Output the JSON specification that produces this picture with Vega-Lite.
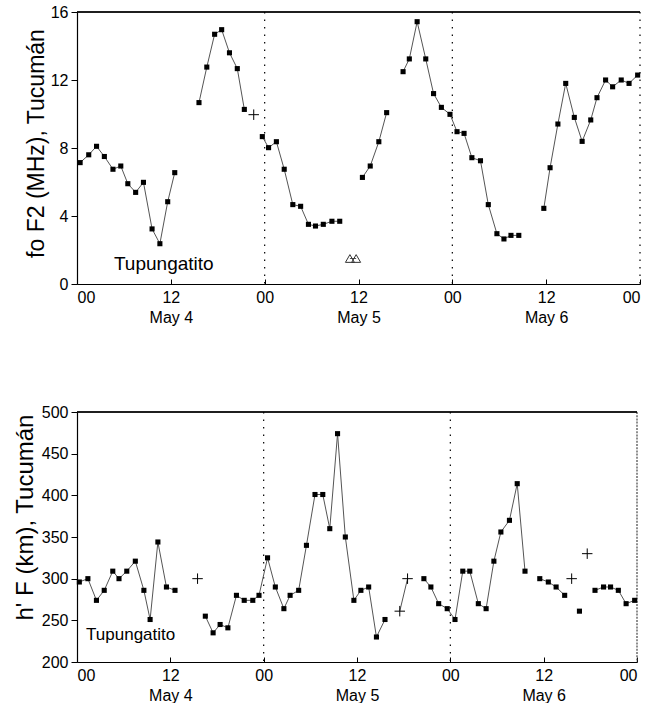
{
  "$schema": "https://vega.github.io/schema/vega-lite/v6.json",
  "padding": {"top": 4, "left": 12, "right": 0, "bottom": 0},
  "spacing": 79,
  "align": "all",
  "config": {
    "font": "Liberation Sans",
    "view": {"stroke": null},
    "axis": {
      "grid": false,
      "domainColor": "black",
      "domainWidth": 1.2,
      "tickColor": "black",
      "labelColor": "black",
      "titleColor": "black",
      "labelFontSize": 16,
      "titleFontWeight": "normal",
      "labelFont": "Liberation Sans",
      "titleFont": "Liberation Sans"
    }
  },
  "datasets": {
    "fof2": [
      {"h": 0.4, "v": 7.14, "seg": "a", "kind": "sq"},
      {"h": 1.5, "v": 7.6, "seg": "a", "kind": "sq"},
      {"h": 2.5, "v": 8.1, "seg": "a", "kind": "sq"},
      {"h": 3.5, "v": 7.5, "seg": "a", "kind": "sq"},
      {"h": 4.6, "v": 6.75, "seg": "a", "kind": "sq"},
      {"h": 5.6, "v": 6.94, "seg": "a", "kind": "sq"},
      {"h": 6.5, "v": 5.9, "seg": "a", "kind": "sq"},
      {"h": 7.5, "v": 5.39, "seg": "a", "kind": "sq"},
      {"h": 8.5, "v": 5.98, "seg": "a", "kind": "sq"},
      {"h": 9.6, "v": 3.24, "seg": "a", "kind": "sq"},
      {"h": 10.6, "v": 2.37, "seg": "a", "kind": "sq"},
      {"h": 11.6, "v": 4.84, "seg": "a", "kind": "sq"},
      {"h": 12.5, "v": 6.55, "seg": "a", "kind": "sq"},
      {"h": 15.6, "v": 10.67, "seg": "b", "kind": "sq"},
      {"h": 16.6, "v": 12.76, "seg": "b", "kind": "sq"},
      {"h": 17.6, "v": 14.69, "seg": "b", "kind": "sq"},
      {"h": 18.5, "v": 14.96, "seg": "b", "kind": "sq"},
      {"h": 19.5, "v": 13.6, "seg": "b", "kind": "sq"},
      {"h": 20.5, "v": 12.67, "seg": "b", "kind": "sq"},
      {"h": 21.4, "v": 10.27, "seg": "b", "kind": "sq"},
      {"h": 22.6, "v": 9.96, "seg": null, "kind": "plus"},
      {"h": 23.7, "v": 8.67, "seg": "c", "kind": "sq"},
      {"h": 24.5, "v": 8.02, "seg": "c", "kind": "sq"},
      {"h": 25.5, "v": 8.37, "seg": "c", "kind": "sq"},
      {"h": 26.5, "v": 6.75, "seg": "c", "kind": "sq"},
      {"h": 27.6, "v": 4.67, "seg": "c", "kind": "sq"},
      {"h": 28.6, "v": 4.57, "seg": "c", "kind": "sq"},
      {"h": 29.6, "v": 3.51, "seg": "c", "kind": "sq"},
      {"h": 30.5, "v": 3.41, "seg": "c", "kind": "sq"},
      {"h": 31.5, "v": 3.51, "seg": "c", "kind": "sq"},
      {"h": 32.6, "v": 3.69, "seg": "c", "kind": "sq"},
      {"h": 33.6, "v": 3.69, "seg": "c", "kind": "sq"},
      {"h": 34.9, "v": 1.5, "seg": "t", "kind": "tri"},
      {"h": 35.7, "v": 1.5, "seg": "t", "kind": "tri"},
      {"h": 36.5, "v": 6.27, "seg": "d", "kind": "sq"},
      {"h": 37.5, "v": 6.94, "seg": "d", "kind": "sq"},
      {"h": 38.6, "v": 8.37, "seg": "d", "kind": "sq"},
      {"h": 39.6, "v": 10.08, "seg": "d", "kind": "sq"},
      {"h": 41.7, "v": 12.49, "seg": "e", "kind": "sq"},
      {"h": 42.5, "v": 13.24, "seg": "e", "kind": "sq"},
      {"h": 43.5, "v": 15.43, "seg": "e", "kind": "sq"},
      {"h": 44.6, "v": 13.24, "seg": "e", "kind": "sq"},
      {"h": 45.6, "v": 11.2, "seg": "e", "kind": "sq"},
      {"h": 46.6, "v": 10.39, "seg": "e", "kind": "sq"},
      {"h": 47.7, "v": 9.98, "seg": "e", "kind": "sq"},
      {"h": 48.6, "v": 8.96, "seg": "e", "kind": "sq"},
      {"h": 49.5, "v": 8.86, "seg": "e", "kind": "sq"},
      {"h": 50.5, "v": 7.43, "seg": "e", "kind": "sq"},
      {"h": 51.6, "v": 7.25, "seg": "e", "kind": "sq"},
      {"h": 52.6, "v": 4.67, "seg": "e", "kind": "sq"},
      {"h": 53.7, "v": 2.96, "seg": "e", "kind": "sq"},
      {"h": 54.6, "v": 2.65, "seg": "e", "kind": "sq"},
      {"h": 55.5, "v": 2.86, "seg": "e", "kind": "sq"},
      {"h": 56.5, "v": 2.86, "seg": "e", "kind": "sq"},
      {"h": 59.7, "v": 4.45, "seg": "f", "kind": "sq"},
      {"h": 60.5, "v": 6.84, "seg": "f", "kind": "sq"},
      {"h": 61.5, "v": 9.41, "seg": "f", "kind": "sq"},
      {"h": 62.5, "v": 11.8, "seg": "f", "kind": "sq"},
      {"h": 63.6, "v": 9.8, "seg": "f", "kind": "sq"},
      {"h": 64.6, "v": 8.39, "seg": "f", "kind": "sq"},
      {"h": 65.7, "v": 9.65, "seg": "f", "kind": "sq"},
      {"h": 66.5, "v": 10.96, "seg": "f", "kind": "sq"},
      {"h": 67.6, "v": 12.0, "seg": "f", "kind": "sq"},
      {"h": 68.5, "v": 11.6, "seg": "f", "kind": "sq"},
      {"h": 69.6, "v": 12.0, "seg": "f", "kind": "sq"},
      {"h": 70.6, "v": 11.8, "seg": "f", "kind": "sq"},
      {"h": 71.7, "v": 12.29, "seg": "f", "kind": "sq"}
    ],
    "hf": [
      {"h": 0.3, "v": 296, "seg": "a", "kind": "sq"},
      {"h": 1.4, "v": 300, "seg": "a", "kind": "sq"},
      {"h": 2.5, "v": 274, "seg": "a", "kind": "sq"},
      {"h": 3.5, "v": 286, "seg": "a", "kind": "sq"},
      {"h": 4.6, "v": 309, "seg": "a", "kind": "sq"},
      {"h": 5.4, "v": 300, "seg": "a", "kind": "sq"},
      {"h": 6.4, "v": 309, "seg": "a", "kind": "sq"},
      {"h": 7.5, "v": 321, "seg": "a", "kind": "sq"},
      {"h": 8.6, "v": 286, "seg": "a", "kind": "sq"},
      {"h": 9.4, "v": 251, "seg": "a", "kind": "sq"},
      {"h": 10.4, "v": 344, "seg": "a", "kind": "sq"},
      {"h": 11.5, "v": 290, "seg": "a", "kind": "sq"},
      {"h": 12.6, "v": 286, "seg": "a", "kind": "sq"},
      {"h": 15.5, "v": 300, "seg": null, "kind": "plus"},
      {"h": 16.5, "v": 255, "seg": "b", "kind": "sq"},
      {"h": 17.5, "v": 235, "seg": "b", "kind": "sq"},
      {"h": 18.4, "v": 245, "seg": "b", "kind": "sq"},
      {"h": 19.4, "v": 241, "seg": "b", "kind": "sq"},
      {"h": 20.5, "v": 280, "seg": "b", "kind": "sq"},
      {"h": 21.5, "v": 274, "seg": "b", "kind": "sq"},
      {"h": 22.6, "v": 274, "seg": "b", "kind": "sq"},
      {"h": 23.4, "v": 280, "seg": "b", "kind": "sq"},
      {"h": 24.5, "v": 325, "seg": "b", "kind": "sq"},
      {"h": 25.5, "v": 290, "seg": "b", "kind": "sq"},
      {"h": 26.6, "v": 264, "seg": "b", "kind": "sq"},
      {"h": 27.4, "v": 280, "seg": "b", "kind": "sq"},
      {"h": 28.5, "v": 286, "seg": "b", "kind": "sq"},
      {"h": 29.5, "v": 340, "seg": "b", "kind": "sq"},
      {"h": 30.6, "v": 401, "seg": "b", "kind": "sq"},
      {"h": 31.6, "v": 401, "seg": "b", "kind": "sq"},
      {"h": 32.5, "v": 360, "seg": "b", "kind": "sq"},
      {"h": 33.5, "v": 474, "seg": "b", "kind": "sq"},
      {"h": 34.5, "v": 350, "seg": "b", "kind": "sq"},
      {"h": 35.6, "v": 274, "seg": "b", "kind": "sq"},
      {"h": 36.5, "v": 286, "seg": "b", "kind": "sq"},
      {"h": 37.5, "v": 290, "seg": "b", "kind": "sq"},
      {"h": 38.5, "v": 230, "seg": "b", "kind": "sq"},
      {"h": 39.6, "v": 251, "seg": "b", "kind": "sq"},
      {"h": 41.5, "v": 261, "seg": "c", "kind": "plus"},
      {"h": 42.5, "v": 300, "seg": "c", "kind": "plus"},
      {"h": 44.6, "v": 300, "seg": "d", "kind": "sq"},
      {"h": 45.5, "v": 290, "seg": "d", "kind": "sq"},
      {"h": 46.5, "v": 270, "seg": "d", "kind": "sq"},
      {"h": 47.6, "v": 264, "seg": "d", "kind": "sq"},
      {"h": 48.6, "v": 251, "seg": "d", "kind": "sq"},
      {"h": 49.6, "v": 309, "seg": "d", "kind": "sq"},
      {"h": 50.5, "v": 309, "seg": "d", "kind": "sq"},
      {"h": 51.6, "v": 270, "seg": "d", "kind": "sq"},
      {"h": 52.6, "v": 264, "seg": "d", "kind": "sq"},
      {"h": 53.6, "v": 321, "seg": "d", "kind": "sq"},
      {"h": 54.5, "v": 356, "seg": "d", "kind": "sq"},
      {"h": 55.6, "v": 370, "seg": "d", "kind": "sq"},
      {"h": 56.6, "v": 414, "seg": "d", "kind": "sq"},
      {"h": 57.6, "v": 309, "seg": "d", "kind": "sq"},
      {"h": 59.5, "v": 300, "seg": "e", "kind": "sq"},
      {"h": 60.6, "v": 296, "seg": "e", "kind": "sq"},
      {"h": 61.6, "v": 290, "seg": "e", "kind": "sq"},
      {"h": 62.7, "v": 280, "seg": "e", "kind": "sq"},
      {"h": 63.6, "v": 300, "seg": null, "kind": "plus"},
      {"h": 64.6, "v": 261, "seg": null, "kind": "sq"},
      {"h": 65.6, "v": 330, "seg": null, "kind": "plus"},
      {"h": 66.6, "v": 286, "seg": "f", "kind": "sq"},
      {"h": 67.7, "v": 290, "seg": "f", "kind": "sq"},
      {"h": 68.6, "v": 290, "seg": "f", "kind": "sq"},
      {"h": 69.6, "v": 286, "seg": "f", "kind": "sq"},
      {"h": 70.6, "v": 270, "seg": "f", "kind": "sq"},
      {"h": 71.7, "v": 274, "seg": "f", "kind": "sq"}
    ],
    "days": [{"h": 24}, {"h": 48}, {"h": 72}],
    "midnights": [{"h": 24}, {"h": 48}]
  },
  "vconcat": [
    {
      "width": 563,
      "height": 272,
      "layer": [
        {
          "data": {"name": "days"},
          "mark": {"type": "rule", "color": "black", "strokeWidth": 1.2, "strokeDash": [1.5, 6]},
          "encoding": {"x": {"field": "h", "type": "quantitative", "scale": {"domain": [0, 72], "nice": false}}}
        },
        {
          "data": {"name": "days"},
          "mark": {"type": "rule", "color": "black", "strokeWidth": 1.2},
          "encoding": {"y": {"datum": 16, "scale": {"domain": [0, 16], "nice": false}}}
        },
        {
          "data": {"name": "fof2"},
          "transform": [{"filter": "datum.seg != null"}],
          "mark": {"type": "line", "color": "#555555", "strokeWidth": 1},
          "encoding": {
            "x": {
              "field": "h", "type": "quantitative",
              "scale": {"domain": [0, 72], "nice": false},
              "axis": {
                "title": null, "values": [0, 12, 24, 36, 48, 60, 72],
                "tickSize": -5, "labelPadding": 10, "labelLineHeight": 20,
                "labelExpr": "datum.value % 24 == 12 ? ['12', 'May ' + (4 + floor(datum.value / 24))] : '00'"
              }
            },
            "y": {
              "field": "v", "type": "quantitative",
              "scale": {"domain": [0, 16], "nice": false},
              "axis": {
                "title": "fo F2 (MHz), Tucumán", "values": [0, 4, 8, 12, 16],
                "tickSize": 6, "labelPadding": 3,
                "titleFontSize": 23, "titleX": -41, "titleY": 131, "titleBaseline": "middle"
              }
            },
            "detail": {"field": "seg"}
          }
        },
        {
          "data": {"name": "fof2"},
          "transform": [{"filter": "datum.kind == 'sq'"}],
          "mark": {"type": "point", "shape": "square", "filled": true, "color": "black", "size": 26, "opacity": 1},
          "encoding": {
            "x": {"field": "h", "type": "quantitative", "scale": {"domain": [0, 72], "nice": false}},
            "y": {"field": "v", "type": "quantitative", "scale": {"domain": [0, 16], "nice": false}}
          }
        },
        {
          "data": {"name": "fof2"},
          "transform": [{"filter": "datum.kind == 'plus'"}],
          "mark": {"type": "point", "shape": "M-1,0L1,0M0,-1L0,1", "filled": false, "color": "black", "strokeWidth": 1, "size": 110, "opacity": 1},
          "encoding": {
            "x": {"field": "h", "type": "quantitative", "scale": {"domain": [0, 72], "nice": false}},
            "y": {"field": "v", "type": "quantitative", "scale": {"domain": [0, 16], "nice": false}}
          }
        },
        {
          "data": {"name": "fof2"},
          "transform": [{"filter": "datum.kind == 'tri'"}],
          "mark": {"type": "point", "shape": "triangle-up", "filled": false, "color": "#333333", "strokeWidth": 1, "size": 80, "opacity": 1},
          "encoding": {
            "x": {"field": "h", "type": "quantitative", "scale": {"domain": [0, 72], "nice": false}},
            "y": {"field": "v", "type": "quantitative", "scale": {"domain": [0, 16], "nice": false}}
          }
        },
        {
          "data": {"values": [{"label": "Tupungatito"}]},
          "mark": {"type": "text", "font": "Liberation Sans", "fontSize": 19, "color": "black", "align": "center", "baseline": "middle"},
          "encoding": {
            "x": {"datum": 11.1, "scale": {"domain": [0, 72], "nice": false}},
            "y": {"datum": 1.2, "scale": {"domain": [0, 16], "nice": false}},
            "text": {"field": "label"}
          }
        }
      ]
    },
    {
      "width": 560,
      "height": 250,
      "layer": [
        {
          "data": {"name": "midnights"},
          "mark": {"type": "rule", "color": "black", "strokeWidth": 1.2, "strokeDash": [1.5, 6]},
          "encoding": {"x": {"field": "h", "type": "quantitative", "scale": {"domain": [0, 72], "nice": false}}}
        },
        {
          "data": {"values": [{"h": 72}]},
          "mark": {"type": "rule", "color": "#444444", "strokeWidth": 1.2, "strokeDash": [2, 1.2]},
          "encoding": {"x": {"field": "h", "type": "quantitative", "scale": {"domain": [0, 72], "nice": false}}}
        },
        {
          "data": {"name": "days"},
          "mark": {"type": "rule", "color": "black", "strokeWidth": 1.2},
          "encoding": {"y": {"datum": 500, "scale": {"domain": [200, 500], "nice": false, "zero": false}}}
        },
        {
          "data": {"name": "hf"},
          "transform": [{"filter": "datum.seg != null"}],
          "mark": {"type": "line", "color": "#555555", "strokeWidth": 1},
          "encoding": {
            "x": {
              "field": "h", "type": "quantitative",
              "scale": {"domain": [0, 72], "nice": false},
              "axis": {
                "title": null, "values": [0, 12, 24, 36, 48, 60, 72],
                "tickSize": -5, "labelPadding": 10, "labelLineHeight": 20,
                "labelExpr": "datum.value % 24 == 12 ? ['12', 'May ' + (4 + floor(datum.value / 24))] : '00'"
              }
            },
            "y": {
              "field": "v", "type": "quantitative",
              "scale": {"domain": [200, 500], "nice": false, "zero": false},
              "axis": {
                "title": "h' F (km), Tucumán", "values": [200, 250, 300, 350, 400, 450, 500],
                "tickSize": 6, "labelPadding": 3,
                "titleFontSize": 24, "titleX": -52, "titleY": 105, "titleBaseline": "middle"
              }
            },
            "detail": {"field": "seg"}
          }
        },
        {
          "data": {"name": "hf"},
          "transform": [{"filter": "datum.kind == 'sq'"}],
          "mark": {"type": "point", "shape": "square", "filled": true, "color": "black", "size": 26, "opacity": 1},
          "encoding": {
            "x": {"field": "h", "type": "quantitative", "scale": {"domain": [0, 72], "nice": false}},
            "y": {"field": "v", "type": "quantitative", "scale": {"domain": [200, 500], "nice": false, "zero": false}}
          }
        },
        {
          "data": {"name": "hf"},
          "transform": [{"filter": "datum.kind == 'plus'"}],
          "mark": {"type": "point", "shape": "M-1,0L1,0M0,-1L0,1", "filled": false, "color": "black", "strokeWidth": 1, "size": 110, "opacity": 1},
          "encoding": {
            "x": {"field": "h", "type": "quantitative", "scale": {"domain": [0, 72], "nice": false}},
            "y": {"field": "v", "type": "quantitative", "scale": {"domain": [200, 500], "nice": false, "zero": false}}
          }
        },
        {
          "data": {"values": [{"label": "Tupungatito"}]},
          "mark": {"type": "text", "font": "Liberation Sans", "fontSize": 17, "color": "black", "align": "center", "baseline": "middle"},
          "encoding": {
            "x": {"datum": 6.9, "scale": {"domain": [0, 72], "nice": false}},
            "y": {"datum": 232, "scale": {"domain": [200, 500], "nice": false, "zero": false}},
            "text": {"field": "label"}
          }
        }
      ]
    }
  ]
}
